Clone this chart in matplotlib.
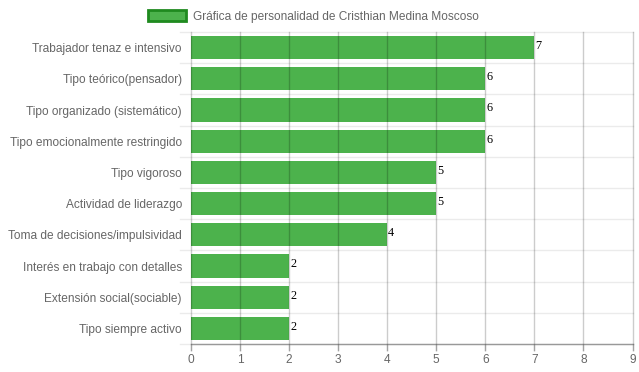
import matplotlib
matplotlib.use('Agg')
import matplotlib.pyplot as plt
from matplotlib.patches import Patch

#chart data
categories = ['Trabajador tenaz e intensivo', 'Tipo teórico(pensador)', 'Tipo organizado (sistemático)',
              'Tipo emocionalmente restringido', 'Tipo vigoroso', 'Actividad de liderazgo',
              'Toma de decisiones/impulsividad', 'Interés en trabajo con detalles',
              'Extensión social(sociable)', 'Tipo siempre activo']
values = [7, 6, 6, 6, 5, 5, 4, 2, 2, 2]
x_ticks = list(range(0, 10))
legend_label = 'Gráfica de personalidad de Cristhian Medina Moscoso'

plt.rcParams['font.family'] = ['Liberation Sans', 'DejaVu Sans']

fig = plt.figure(figsize=(6.39, 3.72), dpi=100)
ax = fig.add_axes([191/639, 1 - 344/372, (632.5 - 191)/639, (344 - 32)/372])

n = len(categories)
ypos = list(range(n))

#bars
ax.barh(ypos, values, height=0.74, color='#4cb24c', zorder=2)

#light horizontal lines between categories
for k in range(n + 1):
    y = k - 0.5
    ax.plot([-0.22, 9], [y, y], color='#ebebeb', lw=1, zorder=1, clip_on=False)

#vertical grid drawn over bars
for t in x_ticks:
    ax.plot([t, t], [-0.5, n - 0.5 + 0.2], color='black', alpha=0.2, lw=1, zorder=3, clip_on=False)

#value labels
for i, v in enumerate(values):
    ax.text(v + 0.02, i - 0.05, str(v), family='Liberation Serif', fontsize=8.8,
            color='black', va='center', ha='left', zorder=4)

ax.set_xlim(0, 9)
ax.set_ylim(n - 0.5, -0.5)
ax.set_xticks(x_ticks)
ax.set_yticks(ypos)
ax.set_yticklabels(categories)
ax.tick_params(axis='y', length=0, pad=6.5, labelsize=8.6, labelcolor='#666666')
ax.tick_params(axis='x', length=5, width=1, color='#cccccc', pad=2, labelsize=8.6, labelcolor='#666666')

for side in ['top', 'right', 'left']:
    ax.spines[side].set_visible(False)
ax.spines['bottom'].set_color('#999999')
ax.spines['bottom'].set_linewidth(1)

#legend
handle = Patch(facecolor='#4cb24c', edgecolor='#1f8a1f', linewidth=2)
fig.legend([handle], [legend_label], loc='center', bbox_to_anchor=(313.5/639, 1 - 16.5/372),
           frameon=False, fontsize=8.6, handlelength=3.2, handleheight=1.0,
           labelcolor='#666666', handletextpad=0.6)

plt.savefig('out.png', dpi=100)
